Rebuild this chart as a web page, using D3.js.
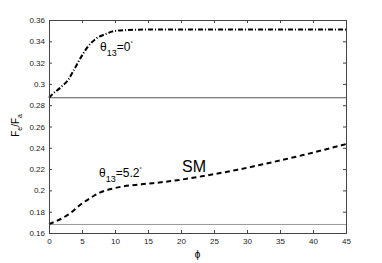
<!DOCTYPE html>
<html>
<head>
<meta charset="utf-8">
<script src="https://cdn.jsdelivr.net/npm/d3@7"></script>
<style>
  body { margin: 0; background: #fff; }
  text { font-family: "Liberation Sans", Arial, sans-serif; }
</style>
</head>
<body>
<script>
// phi values and F_e/F_a
const phiUpper = [0, 0.4, 1.9, 2.9, 3.9, 4.9, 5.9, 7.2, 8.5, 10, 12, 15, 20, 30, 45];
const ratioUpper = [0.287, 0.2896, 0.2974, 0.3037, 0.3146, 0.3256, 0.335, 0.3428, 0.3466, 0.3497, 0.3506, 0.351, 0.351, 0.351, 0.351];

const phiLower = [0, 1.7, 3.2, 4.7, 6.2, 7.7, 9.2, 11, 14, 18.2, 23.4, 28.4, 33.5, 38.5, 45];
const ratioLower = [0.1685, 0.1729, 0.1785, 0.1863, 0.1926, 0.1979, 0.201, 0.2035, 0.2057, 0.2085, 0.2135, 0.2192, 0.226, 0.2332, 0.2435];

const baseLines = [0.287, 0.168];
const xTicks = [0, 5, 10, 15, 20, 25, 30, 35, 40, 45];
const yTicks = [0.16, 0.18, 0.2, 0.22, 0.24, 0.26, 0.28, 0.3, 0.32, 0.34, 0.36];

var width = 382, height = 263;
var mLeft = 49, mRight = 346, mTop = 20, mBottom = 233;

var x = d3.scaleLinear().domain([0, 45]).range([mLeft, mRight]);
var y = d3.scaleLinear().domain([0.16, 0.36]).range([mBottom, mTop]);

var svg = d3.select("body").append("svg")
    .attr("width", width)
    .attr("height", height);

// reference lines
svg.append("line")
    .attr("x1", x(0)).attr("x2", x(45))
    .attr("y1", y(baseLines[0])).attr("y2", y(baseLines[0]))
    .attr("stroke", "#555").attr("stroke-width", 1);
svg.append("line")
    .attr("x1", x(0)).attr("x2", x(45))
    .attr("y1", y(baseLines[1])).attr("y2", y(baseLines[1]))
    .attr("stroke", "#999").attr("stroke-width", 1);

var line = d3.line()
    .x(function(d) { return x(d[0]); })
    .y(function(d) { return y(d[1]); })
    .curve(d3.curveMonotoneX);

svg.append("path")
    .attr("d", line(d3.zip(phiUpper, ratioUpper)))
    .attr("fill", "none")
    .attr("stroke", "#000")
    .attr("stroke-width", 2)
    .attr("stroke-dasharray", "5,2,1,2");

svg.append("path")
    .attr("d", line(d3.zip(phiLower, ratioLower)))
    .attr("fill", "none")
    .attr("stroke", "#000")
    .attr("stroke-width", 2)
    .attr("stroke-dasharray", "5,3.5");

// axes, ticks pointing inward
var xAxis = svg.append("g")
    .attr("transform", "translate(0," + mBottom + ")")
    .call(d3.axisBottom(x).tickValues(xTicks).tickSize(-3).tickPadding(5));
var xTop = svg.append("g")
    .attr("transform", "translate(0," + mTop + ")")
    .call(d3.axisTop(x).tickValues(xTicks).tickSize(-3).tickFormat(""));
var yAxis = svg.append("g")
    .attr("transform", "translate(" + mLeft + ",0)")
    .call(d3.axisLeft(y).tickValues(yTicks).tickSize(-3).tickPadding(4)
      .tickFormat(function(d) { return String(+d.toFixed(2)); }));
var yRight = svg.append("g")
    .attr("transform", "translate(" + mRight + ",0)")
    .call(d3.axisRight(y).tickValues(yTicks).tickSize(-3).tickFormat(""));

[xAxis, xTop, yAxis, yRight].forEach(function(g) {
  g.select(".domain").attr("stroke", "#444");
  g.selectAll(".tick line").attr("stroke", "#444");
  g.selectAll("text").attr("font-size", 8).attr("fill", "#222")
    .attr("font-family", "Liberation Sans, Arial, sans-serif");
});

// labels
svg.append("text")
    .attr("x", x(22.5)).attr("y", 258)
    .attr("text-anchor", "middle")
    .attr("font-size", 10)
    .text("\u03d5");

var yl = svg.append("text")
    .attr("transform", "translate(19," + y(0.261) + ") rotate(-90)")
    .attr("text-anchor", "middle")
    .attr("font-size", 10);
yl.append("tspan").text("F");
yl.append("tspan").attr("font-size", 7).attr("dy", 3).text("e");
yl.append("tspan").attr("dy", -3).text("/F");
yl.append("tspan").attr("font-size", 7).attr("dy", 3).text("a");

function thetaLabel(px, py, val) {
  var t = svg.append("text").attr("x", px).attr("y", py).attr("font-size", 12);
  t.append("tspan").text("\u03b8");
  t.append("tspan").attr("font-size", 9).attr("dy", 5).text("13");
  t.append("tspan").attr("dy", -5).text("=" + val);
  t.append("tspan").attr("font-size", 6).attr("dy", -6).text("\u00b0");
}
thetaLabel(100, 51, "0");
thetaLabel(99, 177, "5.2");

svg.append("text")
    .attr("x", 182).attr("y", 172)
    .attr("font-size", 16)
    .text("SM");
</script>
</body>
</html>
